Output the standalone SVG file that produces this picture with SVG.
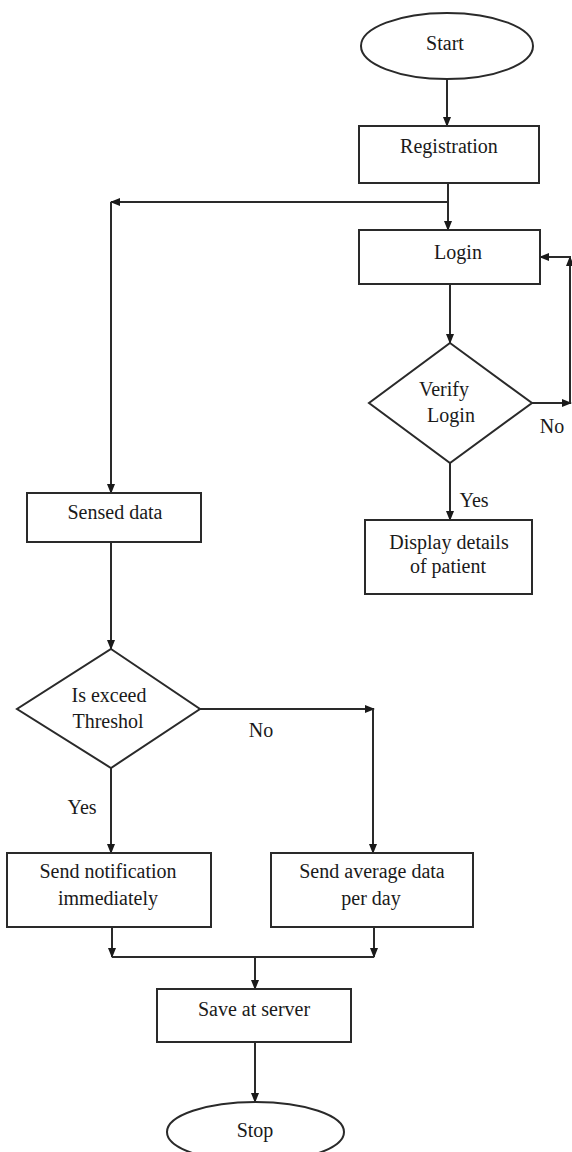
<svg xmlns="http://www.w3.org/2000/svg" width="572" height="1152" viewBox="0 0 572 1152">
<style>
.shape{fill:#fff;stroke:#2a2a2a;stroke-width:2}
.line{fill:none;stroke:#2a2a2a;stroke-width:2}
.arr{marker-end:url(#ah)}
text{font-family:"Liberation Serif","Times New Roman",serif;font-size:20px;fill:#1a1a1a;text-anchor:middle}
</style>
<defs>
<marker id="ah" markerUnits="userSpaceOnUse" markerWidth="10" markerHeight="10" viewBox="0 0 10 10" refX="9" refY="5" orient="auto">
<path d="M0,1 L10,5 L0,9 Z" fill="#1a1a1a"/>
</marker>
</defs>
<rect width="572" height="1152" fill="#fff"/>
<g id="connectors">
<line class="line arr" x1="447" y1="79" x2="447" y2="126"/>
<line class="line arr" x1="448" y1="183" x2="448" y2="230"/>
<line class="line arr" x1="448" y1="202" x2="111" y2="202"/>
<line class="line arr" x1="111" y1="202" x2="111" y2="493"/>
<line class="line arr" x1="450" y1="284" x2="450" y2="343"/>
<line class="line arr" x1="532" y1="403" x2="571" y2="403"/>
<line class="line arr" x1="570" y1="403" x2="570" y2="257"/>
<line class="line arr" x1="571" y1="257" x2="540" y2="257"/>
<line class="line arr" x1="450" y1="463" x2="450" y2="520"/>
<line class="line arr" x1="111" y1="542" x2="111" y2="649"/>
<line class="line arr" x1="200" y1="709" x2="374" y2="709"/>
<line class="line arr" x1="373" y1="709" x2="373" y2="853"/>
<line class="line arr" x1="111" y1="768" x2="111" y2="853"/>
<line class="line arr" x1="112" y1="927" x2="112" y2="957"/>
<line class="line arr" x1="374" y1="927" x2="374" y2="957"/>
<line class="line" x1="112" y1="957" x2="374" y2="957"/>
<line class="line arr" x1="255" y1="957" x2="255" y2="989"/>
<line class="line arr" x1="255" y1="1042" x2="255" y2="1102"/>
<text x="552" y="433">No</text>
<text x="474" y="507">Yes</text>
<text x="261" y="737">No</text>
<text x="82" y="814">Yes</text>
</g>
<g id="start">
<ellipse class="shape" cx="447" cy="46" rx="86" ry="33"/>
<text x="445" y="50">Start</text>
</g>
<g id="registration">
<rect class="shape" x="359" y="126" width="180" height="57"/>
<text x="449" y="153">Registration</text>
</g>
<g id="login">
<rect class="shape" x="359" y="230" width="181" height="54"/>
<text x="458" y="259">Login</text>
</g>
<g id="verify-login">
<polygon class="shape" points="450,343 532,403 450,463 369,403"/>
<text x="444" y="396">Verify</text>
<text x="451" y="422">Login</text>
</g>
<g id="display-details">
<rect class="shape" x="365" y="520" width="167" height="74"/>
<text x="449" y="549">Display details</text>
<text x="448" y="573">of patient</text>
</g>
<g id="sensed-data">
<rect class="shape" x="27" y="493" width="174" height="49"/>
<text x="115" y="519">Sensed data</text>
</g>
<g id="is-exceed">
<polygon class="shape" points="111,649 200,709 111,768 17,709"/>
<text x="109" y="702">Is exceed</text>
<text x="108" y="728">Threshol</text>
</g>
<g id="send-notification">
<rect class="shape" x="7" y="853" width="204" height="74"/>
<text x="108" y="878">Send notification</text>
<text x="108" y="905">immediately</text>
</g>
<g id="send-average">
<rect class="shape" x="271" y="853" width="202" height="74"/>
<text x="372" y="878">Send average data</text>
<text x="371" y="905">per day</text>
</g>
<g id="save-server">
<rect class="shape" x="157" y="989" width="194" height="53"/>
<text x="254" y="1016">Save at server</text>
</g>
<g id="stop">
<ellipse class="shape" cx="255.5" cy="1132" rx="88.5" ry="30"/>
<text x="255" y="1137">Stop</text>
</g>
</svg>
